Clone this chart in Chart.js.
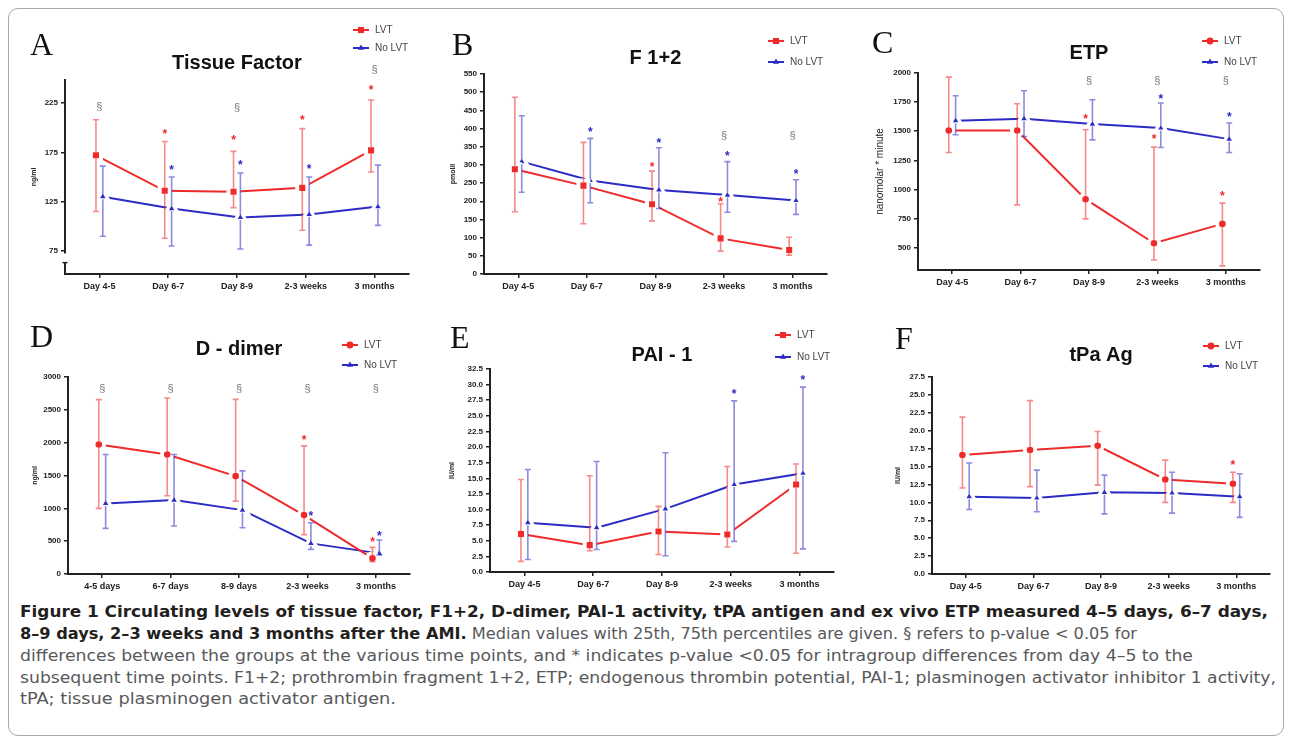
<!DOCTYPE html>
<html>
<head>
<meta charset="utf-8">
<script src="https://cdn.jsdelivr.net/npm/chart.js@4.4.0/dist/chart.umd.min.js"></script>
<style>
html, body { margin: 0; padding: 0; background: #fff; }
body { width: 1290px; height: 741px; position: relative; overflow: hidden; font-family: Arial, "Liberation Sans", sans-serif; }
.frame { position: absolute; left: 8px; top: 8px; width: 1274px; height: 726px; border: 1px solid #a9a9a9; border-radius: 10px; }
.panel { position: absolute; }
.cap { position: absolute; left: 20px; white-space: nowrap; transform-origin: 0 50%; font-family: "Liberation Sans Narrow", "DejaVu Sans Condensed", "DejaVu Sans", sans-serif; font-stretch: condensed; font-size: 16.5px; line-height: 20px; color: #58595b; }
.cap b { color: #231f20; }
</style>
</head>
<body>
<div class="frame"></div>
<div id="charts"></div>

<div class="cap" data-w="1248" style="top:602px"><b>Figure 1 Circulating levels of tissue factor, F1+2, D-dimer, PAI-1 activity, tPA antigen and ex vivo ETP measured 4–5 days, 6–7 days,</b></div>
<div class="cap" data-w="1117" style="top:624px"><b>8–9 days, 2–3 weeks and 3 months after the AMI.</b> Median values with 25th, 75th percentiles are given. § refers to p-value &lt; 0.05 for</div>
<div class="cap" data-w="1173" style="top:646px">differences between the groups at the various time points, and * indicates p-value &lt;0.05 for intragroup differences from day 4–5 to the</div>
<div class="cap" data-w="1256" style="top:668px">subsequent time points. F1+2; prothrombin fragment 1+2, ETP; endogenous thrombin potential, PAI-1; plasminogen activator inhibitor 1 activity,</div>
<div class="cap" data-w="376" style="top:689px">tPA; tissue plasminogen activator antigen.</div>

<script>
// time points
const dayLabels = ['Day 4-5', 'Day 6-7', 'Day 8-9', '2-3 weeks', '3 months'];
const dayLabelsD = ['4-5 days', '6-7 days', '8-9 days', '2-3 weeks', '3 months'];

// A - Tissue factor (ng/ml), median + 25th/75th percentiles
const tfTicks = [75, 125, 175, 225];
const tfLvt = [172, 136, 135, 139, 177];
const tfLvtLo = [115, 88, 119, 96, 155];
const tfLvtHi = [208, 186, 176, 199, 228];
const tfNo = [130, 118, 109, 112, 120];
const tfNoLo = [90, 80, 77, 81, 101];
const tfNoHi = [161, 150, 154, 150, 162];
const tfSect = [221, null, 220, null, 258];
const tfStarLvt = [null, 197, 191, 211, 241];
const tfStarNo = [null, 160, 165, 161, null];

// B - F 1+2 (pmol/l)
const f12Ticks = [0, 50, 100, 150, 200, 250, 300, 350, 400, 450, 500, 550];
const f12Lvt = [288, 243, 192, 98, 66];
const f12LvtLo = [171, 138, 146, 63, 52];
const f12LvtHi = [486, 362, 283, 193, 101];
const f12No = [309, 257, 231, 217, 202];
const f12NoLo = [225, 196, 180, 170, 164];
const f12NoHi = [435, 373, 347, 309, 259];
const f12Sect = [null, null, null, 380, 380];
const f12StarLvt = [null, null, 303, 206, null];
const f12StarNo = [null, 398, 369, 334, 284];

// C - ETP (nanomolar * minute)
const etpTicks = [500, 750, 1000, 1250, 1500, 1750, 2000];
const etpLvt = [1506, 1506, 916, 538, 704];
const etpLvtLo = [1317, 867, 747, 394, 343];
const etpLvtHi = [1965, 1736, 1512, 1363, 882];
const etpNo = [1590, 1607, 1561, 1527, 1432];
const etpNoLo = [1469, 1455, 1426, 1360, 1317];
const etpNoHi = [1805, 1848, 1770, 1742, 1570];
const etpSect = [null, null, 1928, 1928, 1928];
const etpStarLvt = [null, null, 1627, 1461, 973];
const etpStarNo = [null, null, null, 1805, 1650];

// D - D-dimer (ng/ml)
const ddTicks = [0, 500, 1000, 1500, 2000, 2500, 3000];
const ddLvt = [1971, 1820, 1490, 897, 238];
const ddLvtLo = [999, 1191, 1110, 600, 187];
const ddLvtHi = [2656, 2680, 2660, 1951, 406];
const ddNo = [1075, 1125, 973, 466, 314];
const ddNoLo = [695, 730, 704, 375, 289];
const ddNoHi = [1820, 1820, 1571, 780, 517];
const ddSect = [2823, 2823, 2823, 2823, 2823];
const ddStarLvt = [null, null, null, 2087, 527];
const ddStarNo = [null, null, null, 932, 628];

// E - PAI-1 (IU/ml)
const paiTicks = [0, 2.5, 5, 7.5, 10, 12.5, 15, 17.5, 20, 22.5, 25, 27.5, 30, 32.5];
const paiLvt = [6.1, 4.3, 6.5, 6.0, 14.0];
const paiLvtLo = [1.7, 3.4, 2.8, 4.0, 3.0];
const paiLvtHi = [14.8, 15.4, 10.5, 16.9, 17.3];
const paiNo = [7.9, 7.1, 10.1, 14.0, 15.8];
const paiNoLo = [2.0, 3.6, 2.6, 4.9, 3.7];
const paiNoHi = [16.4, 17.7, 19.1, 27.4, 29.6];
const paiSect = [null, null, null, null, null];
const paiStarLvt = [null, null, null, null, null];
const paiStarNo = [null, null, null, 28.9, 31.2];

// F - tPA antigen (IU/ml)
const tpaTicks = [0, 2.5, 5, 7.5, 10, 12.5, 15, 17.5, 20, 22.5, 25, 27.5];
const tpaLvt = [16.6, 17.3, 17.9, 13.2, 12.6];
const tpaLvtLo = [12.0, 12.2, 12.4, 10.0, 10.0];
const tpaLvtHi = [21.9, 24.2, 19.9, 15.9, 14.2];
const tpaNo = [10.8, 10.6, 11.4, 11.3, 10.8];
const tpaNoLo = [9.0, 8.7, 8.4, 8.5, 7.9];
const tpaNoHi = [15.5, 14.5, 13.8, 14.2, 14.0];
const tpaSect = [null, null, null, null, null];
const tpaStarLvt = [null, null, null, null, 15.7];
const tpaStarNo = [null, null, null, null, null];

const RED = '#ee2a2a', RED_BAR = 'rgba(238,42,42,0.55)';
const BLUE = '#2b2bc6', BLUE_BAR = 'rgba(43,43,198,0.55)';
const X_OFF = 0.05; // small side-by-side dodge of the two groups

// layout of the six panels (canvas box + chart area tuning)
const panels = [
    { letter: 'A', title: 'Tissue Factor', unit: 'ng/ml', labels: dayLabels, ticks: tfTicks, min: 51.7, max: 248.3, dec: 0,
      lvt: [tfLvt, tfLvtLo, tfLvtHi, tfStarLvt], no: [tfNo, tfNoLo, tfNoHi, tfStarNo], sect: tfSect, red: 'rect', brk: [63.2, 72.5],
      left: 15, top: 12, w: 405, h: 280, yw: 50, xh: 18, padR: 10, tPadT: 39, tPadB: 5, uPad: 15, uSize: 7, uWeight: 'bold',
      lx: 15, ly: 43, gx: 338, gy: 18, gGap: 18 },
    { letter: 'B', title: 'F 1+2', unit: 'pmol/l', labels: dayLabels, ticks: f12Ticks, min: 0, max: 550, dec: 0,
      lvt: [f12Lvt, f12LvtLo, f12LvtHi, f12StarLvt], no: [f12No, f12NoLo, f12NoHi, f12StarNo], sect: f12Sect, red: 'rect',
      left: 425, top: 12, w: 413, h: 280, yw: 59, xh: 18, padR: 7, tPadT: 34, tPadB: 4, uPad: 24, uSize: 7, uWeight: 'bold',
      lx: 27, ly: 43, gx: 343, gy: 29, gGap: 21 },
    { letter: 'C', title: 'ETP', unit: 'nanomolar * minute', labels: dayLabels, ticks: etpTicks, min: 308, max: 2000, dec: 0,
      lvt: [etpLvt, etpLvtLo, etpLvtHi, etpStarLvt], no: [etpNo, etpNoLo, etpNoHi, etpStarNo], sect: etpSect, red: 'circle',
      left: 850, top: 12, w: 425, h: 280, yw: 68, xh: 22, padR: 15, tPadT: 29, tPadB: 8, uPad: 24, uSize: 10, uWeight: 'normal',
      lx: 22, ly: 41, gx: 352, gy: 29, gGap: 21 },
    { letter: 'D', title: 'D - dimer', unit: 'ng/ml', labels: dayLabelsD, ticks: ddTicks, min: 0, max: 3000, dec: 0,
      lvt: [ddLvt, ddLvtLo, ddLvtHi, ddStarLvt], no: [ddNo, ddNoLo, ddNoHi, ddStarNo], sect: ddSect, red: 'circle',
      left: 15, top: 305, w: 405, h: 288, yw: 53, xh: 19, padR: 6, tPadT: 32, tPadB: 16, uPad: 16, uSize: 7, uWeight: 'bold',
      lx: 15, ly: 42, gx: 327, gy: 40, gGap: 20 },
    { letter: 'E', title: 'PAI - 1', unit: 'IU/ml', labels: dayLabels, ticks: paiTicks, min: 0, max: 32.5, dec: 1,
      lvt: [paiLvt, paiLvtLo, paiLvtHi, paiStarLvt], no: [paiNo, paiNoLo, paiNoHi, paiStarNo], sect: paiSect, red: 'rect',
      left: 425, top: 305, w: 420, h: 288, yw: 65, xh: 21, padR: 5, tPadT: 38, tPadB: 2, uPad: 23, uSize: 7, uWeight: 'bold',
      lx: 25, ly: 43, gx: 350, gy: 30, gGap: 22 },
    { letter: 'F', title: 'tPa Ag', unit: 'IU/ml', labels: dayLabels, ticks: tpaTicks, min: 0, max: 27.5, dec: 1,
      lvt: [tpaLvt, tpaLvtLo, tpaLvtHi, tpaStarLvt], no: [tpaNo, tpaNoLo, tpaNoHi, tpaStarNo], sect: tpaSect, red: 'circle',
      left: 850, top: 305, w: 430, h: 288, yw: 82, xh: 19, padR: 6, tPadT: 38, tPadB: 10, uPad: 44, uSize: 7, uWeight: 'bold',
      lx: 45, ly: 44, gx: 353, gy: 41, gGap: 20 }
];

// marker sizes: chart radius + white halo width (gives the gap between line and marker)
const markers = {
    rect: { r: 7.1, bw: 4, vis: 3, legendR: 4.3 },
    circle: { r: 5.2, bw: 3.8, vis: 3.3, legendR: 3.4 },
    triangle: { r: 6.5, bw: 3.4, vis: 2.5, legendR: 3.6 }
};

// error bars, § and * marks, legend, panel letter
const extras = {
    id: 'extras',
    afterDatasetsDraw(chart, args, opts) {
        const ctx = chart.ctx;
        const xs = chart.scales.x, ys = chart.scales.y;
        ctx.save();
        chart.data.datasets.forEach(ds => {
            ctx.strokeStyle = ds.barColor;
            ctx.lineWidth = 1.6;
            const half = markers[ds.pointStyle].vis;
            ds.data.forEach((p, i) => {
                const x = xs.getPixelForValue(p.x);
                const y = ys.getPixelForValue(p.y);
                const yLo = ys.getPixelForValue(ds.lo[i]);
                const yHi = ys.getPixelForValue(ds.hi[i]);
                ctx.beginPath();
                ctx.moveTo(x, y - half); ctx.lineTo(x, yHi);
                ctx.moveTo(x, y + half); ctx.lineTo(x, yLo);
                ctx.moveTo(x - 3, yLo); ctx.lineTo(x + 3, yLo);
                ctx.moveTo(x - 3, yHi); ctx.lineTo(x + 3, yHi);
                ctx.stroke();
            });
        });
        ctx.textAlign = 'center';
        ctx.textBaseline = 'alphabetic';
        ctx.font = '11px Arial, "Liberation Sans", sans-serif';
        ctx.fillStyle = '#777';
        opts.sect.forEach((v, i) => {
            if (v == null) return;
            ctx.fillText('§', xs.getPixelForValue(i), ys.getPixelForValue(v) + 3);
        });
        ctx.font = 'bold 12px Arial, "Liberation Sans", sans-serif';
        chart.data.datasets.forEach(ds => {
            ctx.fillStyle = ds.borderColor;
            ds.stars.forEach((v, i) => {
                if (v == null) return;
                ctx.fillText('*', xs.getPixelForValue(i + ds.xOff), ys.getPixelForValue(v) + 7);
            });
        });
        ctx.restore();
    },
    afterDraw(chart, args, opts) {
        const ctx = chart.ctx;
        const ys = chart.scales.y;
        ctx.save();
        // broken y axis (panel A)
        if (opts.brk) {
            const x = chart.chartArea.left;
            const yTop = ys.getPixelForValue(opts.brk[1]);
            const yBot = ys.getPixelForValue(opts.brk[0]);
            ctx.fillStyle = '#fff';
            ctx.fillRect(x - 2, yTop, 4, yBot - yTop);
            ctx.strokeStyle = '#222';
            ctx.lineWidth = 1.5;
            ctx.beginPath(); ctx.moveTo(x - 2.5, yBot); ctx.lineTo(x + 2.5, yBot); ctx.stroke();
        }
        ctx.fillStyle = '#111';
        ctx.font = '32px "Liberation Serif", "DejaVu Serif", serif';
        ctx.textAlign = 'left';
        ctx.textBaseline = 'alphabetic';
        ctx.fillText(opts.letter, opts.lx, opts.ly);
        chart.data.datasets.forEach((ds, di) => {
            const y = opts.gy + di * opts.gGap;
            const x0 = opts.gx;
            ctx.strokeStyle = ds.borderColor;
            ctx.lineWidth = 2;
            ctx.beginPath(); ctx.moveTo(x0, y); ctx.lineTo(x0 + 16, y); ctx.stroke();
            ctx.fillStyle = ds.borderColor;
            Chart.helpers.drawPoint(ctx, { pointStyle: ds.pointStyle, radius: markers[ds.pointStyle].legendR, rotation: 0, borderWidth: 0 }, x0 + 8, y);
            ctx.fillStyle = '#444';
            ctx.font = '10px Arial, "Liberation Sans", sans-serif';
            ctx.textBaseline = 'middle';
            ctx.fillText(ds.label, x0 + 22, y);
        });
        ctx.restore();
    }
};

function series(label, vals, lo, hi, stars, off, color, barColor, style) {
    const m = markers[style];
    return {
        label: label,
        data: vals.map((v, i) => ({ x: i + off, y: v })),
        lo: lo, hi: hi, stars: stars, xOff: off, barColor: barColor,
        borderColor: color, borderWidth: 2, tension: 0,
        pointStyle: style, pointRadius: m.r, pointBorderWidth: m.bw,
        pointBorderColor: '#fff', pointBackgroundColor: color
    };
}

const host = document.getElementById('charts');
panels.forEach(p => {
    const box = document.createElement('div');
    box.className = 'panel';
    box.style.left = p.left + 'px';
    box.style.top = p.top + 'px';
    const cv = document.createElement('canvas');
    cv.width = p.w; cv.height = p.h;
    cv.style.width = p.w + 'px'; cv.style.height = p.h + 'px';
    box.appendChild(cv);
    host.appendChild(box);

    const fam = 'Arial, "Liberation Sans", sans-serif';
    new Chart(cv, {
        type: 'line',
        data: {
            datasets: [
                series('LVT', p.lvt[0], p.lvt[1], p.lvt[2], p.lvt[3], -X_OFF, RED, RED_BAR, p.red),
                series('No LVT', p.no[0], p.no[1], p.no[2], p.no[3], X_OFF, BLUE, BLUE_BAR, 'triangle')
            ]
        },
        options: {
            responsive: false,
            animation: false,
            events: [],
            layout: { padding: { left: 0, right: p.padR, top: 0, bottom: 0 } },
            plugins: {
                legend: { display: false },
                tooltip: { enabled: false },
                title: {
                    display: true, text: p.title, fullSize: false, color: '#111',
                    font: { family: fam, size: 20, weight: 'bold', lineHeight: 1.2 },
                    padding: { top: p.tPadT, bottom: p.tPadB }
                },
                extras: { letter: p.letter, lx: p.lx, ly: p.ly, gx: p.gx, gy: p.gy, gGap: p.gGap, sect: p.sect, brk: p.brk }
            },
            scales: {
                x: {
                    type: 'linear', min: -0.5, max: 4.5,
                    afterBuildTicks: s => { s.ticks = p.labels.map((l, i) => ({ value: i })); },
                    afterFit: s => { s.height = p.xh; },
                    ticks: { font: { family: fam, size: 9, weight: 'bold' }, color: '#222', padding: 3, maxRotation: 0,
                             callback: v => p.labels[Math.round(v)] },
                    grid: { display: true, drawOnChartArea: false, drawTicks: true, tickLength: 4, color: '#222', lineWidth: 1.5 },
                    border: { display: true, color: '#222', width: 2 }
                },
                y: {
                    min: p.min, max: p.max,
                    afterBuildTicks: s => { s.ticks = p.ticks.map(v => ({ value: v })); },
                    afterFit: s => { s.width = p.yw; },
                    ticks: { font: { family: fam, size: 8, weight: 'bold' }, color: '#222', padding: 3, callback: v => v.toFixed(p.dec) },
                    grid: { display: true, drawOnChartArea: false, drawTicks: true, tickLength: 4, color: '#222', lineWidth: 1.5 },
                    border: { display: true, color: '#222', width: 2 },
                    title: { display: true, text: p.unit, color: '#222', padding: { top: p.uPad, bottom: 0 },
                             font: { family: fam, size: p.uSize, weight: p.uWeight, lineHeight: 1.2 } }
                }
            }
        },
        plugins: [extras]
    });
});

// fit each caption line to its width in the figure
document.querySelectorAll('.cap').forEach(el => {
    const w = el.getBoundingClientRect().width;
    el.style.transform = 'scaleX(' + (+el.dataset.w / w) + ')';
});
</script>
</body>
</html>
